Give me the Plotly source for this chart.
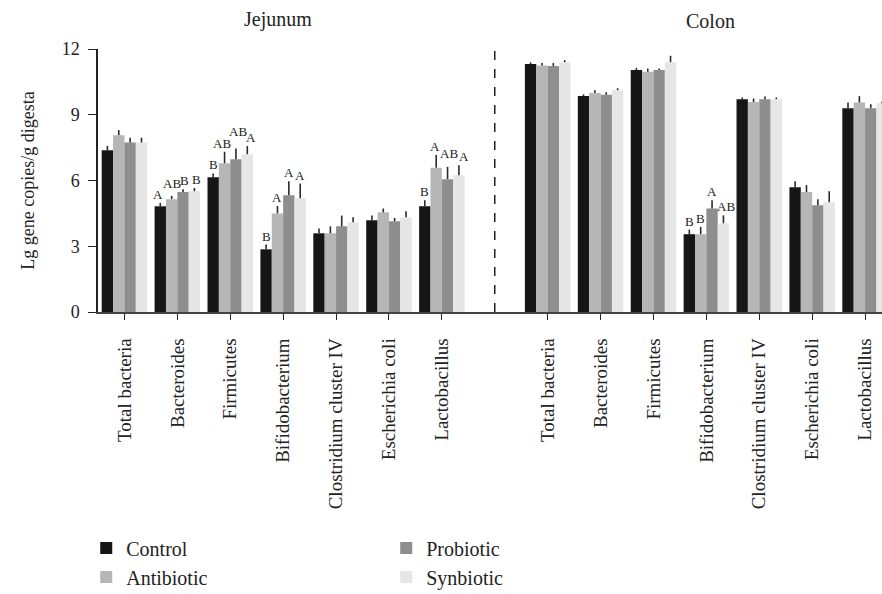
import plotly.graph_objects as go

categories = ["Total bacteria", "Bacteroides", "Firmicutes", "Bifidobacterium",
              "Clostridium cluster IV", "Escherichia coli", "Lactobacillus"]
sections = ["Jejunum", "Colon"]
treatments = ["Control", "Antibiotic", "Probiotic", "Synbiotic"]
colors = ["#161616", "#b6b6b6", "#8e8e8e", "#e6e6e6"]

# means (Lg gene copies/g digesta)
jejunum_control = [7.38, 4.83, 6.15, 2.86, 3.59, 4.19, 4.83]
jejunum_antibiotic = [8.07, 5.15, 6.79, 4.50, 3.59, 4.55, 6.58]
jejunum_probiotic = [7.73, 5.47, 6.97, 5.33, 3.91, 4.14, 6.06]
jejunum_synbiotic = [7.73, 5.51, 7.20, 5.19, 4.10, 4.32, 6.24]

colon_control = [11.31, 9.85, 11.04, 3.55, 9.71, 5.69, 9.30]
colon_antibiotic = [11.25, 9.99, 10.96, 3.55, 9.58, 5.47, 9.56]
colon_probiotic = [11.22, 9.91, 11.04, 4.72, 9.71, 4.87, 9.30]
colon_synbiotic = [11.40, 10.12, 11.40, 4.05, 9.71, 5.01, 9.52]

# standard errors
jejunum_control_se = [0.20, 0.15, 0.17, 0.22, 0.22, 0.21, 0.27]
jejunum_antibiotic_se = [0.23, 0.15, 0.52, 0.34, 0.32, 0.17, 0.58]
jejunum_probiotic_se = [0.22, 0.13, 0.49, 0.64, 0.49, 0.15, 0.56]
jejunum_synbiotic_se = [0.22, 0.15, 0.37, 0.67, 0.22, 0.28, 0.46]

colon_control_se = [0.08, 0.08, 0.10, 0.21, 0.08, 0.28, 0.26]
colon_antibiotic_se = [0.11, 0.13, 0.15, 0.33, 0.16, 0.32, 0.29]
colon_probiotic_se = [0.14, 0.12, 0.07, 0.38, 0.12, 0.28, 0.18]
colon_synbiotic_se = [0.09, 0.09, 0.29, 0.36, 0.08, 0.50, 0.08]

# significance letters
jejunum_control_sig = ["", "A", "B", "B", "", "", "B"]
jejunum_antibiotic_sig = ["", "AB", "AB", "A", "", "", "A"]
jejunum_probiotic_sig = ["", "B", "AB", "A", "", "", "AB"]
jejunum_synbiotic_sig = ["", "B", "A", "A", "", "", "A"]

colon_control_sig = ["", "", "", "B", "", "", ""]
colon_antibiotic_sig = ["", "", "", "B", "", "", ""]
colon_probiotic_sig = ["", "", "", "A", "", "", ""]
colon_synbiotic_sig = ["", "", "", "AB", "", "", ""]

yticks = [0, 3, 6, 9, 12]

means = [jejunum_control + colon_control, jejunum_antibiotic + colon_antibiotic,
         jejunum_probiotic + colon_probiotic, jejunum_synbiotic + colon_synbiotic]
errs = [jejunum_control_se + colon_control_se, jejunum_antibiotic_se + colon_antibiotic_se,
        jejunum_probiotic_se + colon_probiotic_se, jejunum_synbiotic_se + colon_synbiotic_se]
sigs = [jejunum_control_sig + colon_control_sig, jejunum_antibiotic_sig + colon_antibiotic_sig,
        jejunum_probiotic_sig + colon_probiotic_sig, jejunum_synbiotic_sig + colon_synbiotic_sig]

n = len(categories)
xpos = list(range(n)) + [n + 1 + i for i in range(n)]
ticktext = categories + categories

FONT = "Liberation Serif, Times New Roman, serif"
TXT = "#222"
bargap = 0.14
bw = (1 - bargap) / len(treatments)

fig = go.Figure()
ranks = [1, 3, 2, 4]
for k, t in enumerate(treatments):
    fig.add_trace(go.Bar(
        x=xpos, y=means[k], name=t, marker=dict(color=colors[k], line=dict(width=0)),
        error_y=dict(type="data", array=errs[k], arrayminus=[0] * len(xpos), symmetric=False,
                     color="#2a2a2a", thickness=1.6, width=0),
        legendrank=ranks[k],
    ))

# small label nudges (pixels) to stagger crowded letters, as in the reference
nudge = {(0, 1): (-2, 0), (1, 1): (0, 4), (2, 1): (1, 0), (3, 1): (2, 0),
         (1, 2): (-3, 0), (2, 2): (2, 9), (3, 2): (4, 0),
         (1, 6): (-1, 0), (2, 6): (1, 5), (3, 6): (5, 0),
         (3, 10): (3, 0)}

annotations = []
for k in range(len(treatments)):
    off = (k - 1.5) * bw
    for i, x in enumerate(xpos):
        if sigs[k][i]:
            dx, dy = nudge.get((k, i), (0, 0))
            annotations.append(dict(
                x=x + off, y=means[k][i] + errs[k][i], text=sigs[k][i], showarrow=False,
                xref="x", yref="y", yanchor="bottom", yshift=dy - 1, xshift=dx,
                font=dict(family=FONT, size=13, color=TXT)))

annotations.append(dict(x=2.9, y=1, yref="paper", xref="x", text=sections[0], showarrow=False,
                        yanchor="bottom", yshift=16, font=dict(family=FONT, size=20, color=TXT)))
annotations.append(dict(x=11.07, y=1, yref="paper", xref="x", text=sections[1], showarrow=False,
                        yanchor="bottom", yshift=15, font=dict(family=FONT, size=20, color=TXT)))

fig.add_shape(type="line", x0=n, x1=n, y0=0, y1=12, xref="x", yref="y",
              line=dict(color=TXT, width=1.5, dash="dash"))

fig.update_layout(
    width=882, height=594,
    margin=dict(l=98, r=0, t=49, b=282, autoexpand=False),
    paper_bgcolor="white", plot_bgcolor="white",
    barmode="group", bargap=bargap, bargroupgap=0,
    font=dict(family=FONT, size=18, color=TXT),
    annotations=annotations,
    showlegend=True,
    legend=dict(orientation="h", x=-0.015, y=-0.823, xanchor="left", yanchor="top",
                entrywidth=255, entrywidthmode="pixels", traceorder="normal",
                font=dict(family=FONT, size=20, color=TXT)),
)
fig.update_xaxes(range=[-0.5, 14.32], tickmode="array", tickvals=xpos, ticktext=ticktext,
                 tickangle=-90, ticks="outside", ticklen=6, tickcolor=TXT, automargin=False,
                 ticklabelstandoff=11,
                 showline=True, linecolor="#444", linewidth=1.5, showgrid=False, zeroline=False,
                 tickfont=dict(family=FONT, size=19, color=TXT))
fig.update_yaxes(range=[0, 12], tickvals=yticks, ticks="outside", ticklen=8, tickcolor=TXT,
                 automargin=False, ticklabelstandoff=5,
                 showline=True, linecolor=TXT, linewidth=1.5, showgrid=False, zeroline=False,
                 title=dict(text="Lg gene copies/g digesta", standoff=22,
                            font=dict(family=FONT, size=18, color=TXT)),
                 tickfont=dict(family=FONT, size=18, color=TXT))

fig.write_html("out.html", config={"displayModeBar": False},
               post_script="document.body.style.margin='0';document.body.style.overflow='hidden';")
